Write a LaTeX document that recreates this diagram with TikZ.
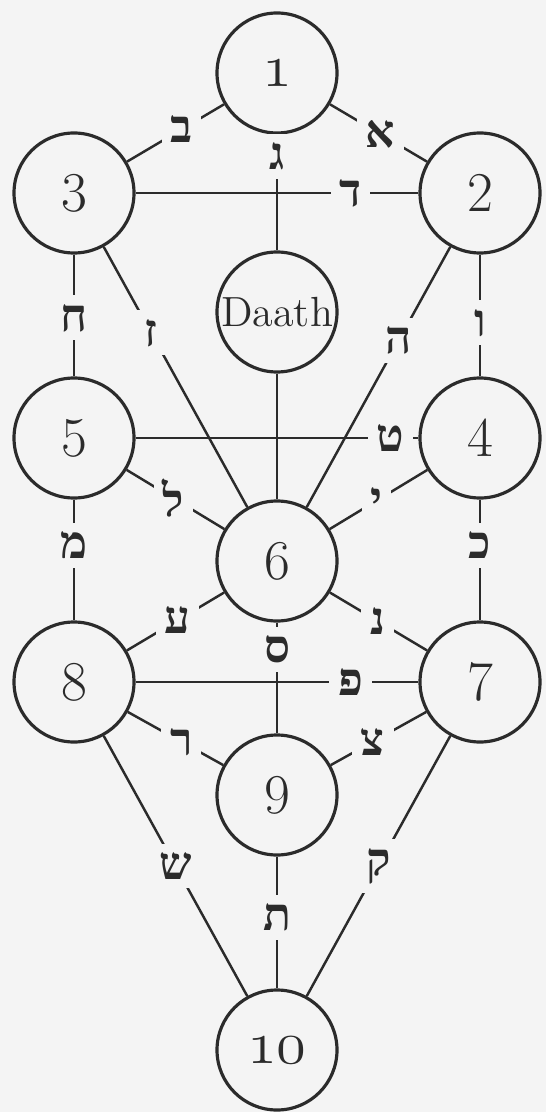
\documentclass[tikz,border=0pt]{standalone}
\usepackage{fontspec}
\TeXXeTstate=1
\newfontfamily\hebfont[Script=Hebrew]{Liberation Serif}
\definecolor{paper}{gray}{0.955}
\definecolor{ink}{gray}{0.17}
\newcommand{\heb}[1]{\hebfont\bfseries\beginR #1\endR}
\newcommand{\osnum}[1]{{\usefont{OML}{cmm}{m}{it}#1}}

\begin{document}
\begin{tikzpicture}[x=1cm, y=-1cm, line width=0.7pt,
  sephira/.style={circle, draw=ink, line width=0.9pt, fill=paper, minimum size=1.2cm,
    inner sep=0pt, text=ink, font=\fontsize{16}{19}\selectfont},
  letter/.style={fill=paper, inner sep=2.5pt, text=ink, font=\fontsize{13}{15}\selectfont},
  path/.style={draw=ink}]
  \fill[paper] (0,0) rectangle (5.46,11.12);
  % the sephiroth
  \node[sephira] (s1) at (2.77,0.73) {\osnum{1}};
  \node[sephira] (s2) at (4.80,1.93) {2};
  \node[sephira] (s3) at (0.74,1.93) {3};
  \node[sephira, font=\fontsize{12}{14}\selectfont] (daath) at (2.77,3.12) {Daath};
  \node[sephira] (s4) at (4.80,4.38) {4};
  \node[sephira] (s5) at (0.74,4.38) {5};
  \node[sephira] (s6) at (2.77,5.61) {6};
  \node[sephira] (s7) at (4.80,6.82) {7};
  \node[sephira] (s8) at (0.74,6.82) {8};
  \node[sephira] (s9) at (2.77,7.95) {9};
  \node[sephira] (s10) at (2.77,10.50) {\osnum{10}};
  % the paths
  \draw[path] (s1) -- node[letter, pos=.52] {\heb{א}} (s2);
  \draw[path] (s1) -- node[letter, pos=.44] {\heb{ב}} (s3);
  \draw[path] (s1) -- node[letter, pos=.19] {\heb{ג}} (daath);
  \draw[path] (s3) -- node[letter, pos=.76] {\heb{ד}} (s2);
  \draw[path] (s2) -- node[letter, pos=.36] {\heb{ה}} (s6);
  \draw[path] (s2) -- node[letter, pos=.56] {\heb{ו}} (s4);
  \draw[path] (s3) -- node[letter, pos=.33] {\heb{ז}} (s6);
  \draw[path] (s3) -- node[letter, pos=.52] {\heb{ח}} (s5);
  \draw[path] (s5) -- node[letter, pos=.90] {\heb{ט}} (s4);
  \draw[path] (s4) -- node[letter, pos=.52] {\heb{י}} (s6);
  \draw[path] (s4) -- node[letter, pos=.38] {\heb{כ}} (s7);
  \draw[path] (s5) -- node[letter, pos=.48] {\heb{ל}} (s6);
  \draw[path] (s5) -- node[letter, pos=.38] {\heb{מ}} (s8);
  \draw[path] (s6) -- node[letter, pos=.49] {\heb{נ}} (s7);
  \draw[path] (s6) -- node[letter, pos=.24] {\heb{ס}} (s9);
  \draw[path] (s6) -- node[letter, pos=.48] {\heb{ע}} (s8);
  \draw[path] (s8) -- node[letter, pos=.76] {\heb{פ}} (s7);
  \draw[path] (s7) -- node[letter, pos=.56] {\heb{צ}} (s9);
  \draw[path] (s8) -- node[letter, pos=.56] {\heb{ר}} (s9);
  \draw[path] (s7) -- node[letter, pos=.50] {\heb{ק}} (s10);
  \draw[path] (s8) -- node[letter, pos=.50] {\heb{ש}} (s10);
  \draw[path] (s9) -- node[letter, pos=.46] {\heb{ת}} (s10);
  \draw[path] (daath) -- (s6);
\end{tikzpicture}
\end{document}
